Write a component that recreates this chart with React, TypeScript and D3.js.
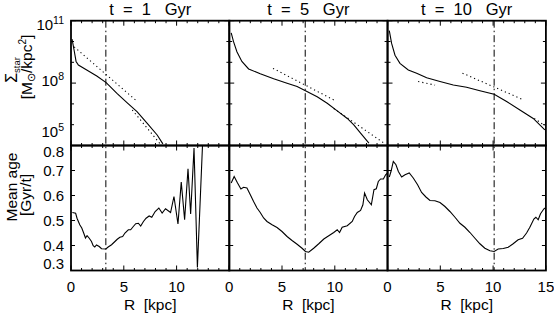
import React from "react";
import * as d3 from "d3";

// --- data ------------------------------------------------------------------
const titles = ["1", "5", "10"];
const breakRadius = [3.3, 7.2, 10.1];

// surface density profiles, R [kpc] / Sigma [Msun/kpc^2]
const radiusT1 = [0.1, 0.29, 0.48, 0.7, 1.49, 2.44, 3.33, 4.35, 5.3, 6.25, 7.2, 8.16, 8.7];
const sigmaT1 = [1.3e10, 3.9e9, 1.1e9, 7.4e8, 4.3e8, 2.2e8, 1.05e8, 3.2e7, 1.15e7, 4.3e6, 1.2e6, 3.2e5, 1.2e5];
const radiusT5 = [0.19, 0.41, 0.73, 1.2, 1.84, 2.94, 4.21, 5.48, 6.43, 7.22, 8.33, 9.28, 10.23, 11.18, 11.8, 12.44, 13.23];
const sigmaT5 = [2.6e10, 9.8e9, 3.2e9, 1.1e9, 4.8e8, 2.8e8, 1.6e8, 9.8e7, 6.8e7, 4.3e7, 2.2e7, 1.07e7, 4.6e6, 2.0e6, 9.8e5, 3.9e5, 1.3e5];
const radiusT10 = [0.17, 0.39, 0.71, 1.18, 1.97, 2.76, 3.71, 4.97, 6.23, 7.49, 8.75, 10.1, 11.28, 12.54, 13.8, 14.9];
const sigmaT10 = [3.3e10, 8.1e9, 2.2e9, 8.9e8, 4.3e8, 3.0e8, 1.8e8, 1.2e8, 8.1e7, 6.3e7, 4.3e7, 2.9e7, 1.3e7, 5.1e6, 2.0e6, 5.6e5];

// exponential fits (dotted), pairs of end points
const fitRadius = [
  [[0.3, 6.2], [5.8, 8.4]],
  [[4.15, 10.07], [9.9, 14.66]],
  [[2.9, 4.5], [7.1, 12.9], [13.9, 14.9]],
];
const fitSigma = [
  [[5.5e9, 1.4e7], [5.1e6, 1.26e5]],
  [[5.1e8, 1.4e7], [6.0e6, 1.3e5]],
  [[1.2e8, 8.0e7], [3.0e8, 1.55e7], [2.0e6, 9.0e5]],
];

// mean age profiles, R [kpc] / age [Gyr/t]
const ageRadiusT1 = [0.13, 0.44, 0.57, 0.83, 1.02, 1.2, 1.37, 1.52, 1.71, 1.94, 2.1, 2.25, 2.41, 2.67, 2.89, 3.3, 3.52, 3.84, 4.16, 4.38, 4.63, 4.89, 5.11, 5.43, 5.65, 5.9, 6.13, 6.38, 6.6, 6.86, 7.11, 7.4, 7.65, 7.97, 8.32, 8.63, 8.95, 9.43, 9.75, 10.13, 10.44, 10.76, 11.08, 11.33, 11.65, 11.97, 12.6];
const ageT1 = [0.532, 0.529, 0.509, 0.483, 0.47, 0.45, 0.43, 0.439, 0.43, 0.416, 0.399, 0.394, 0.402, 0.396, 0.387, 0.386, 0.394, 0.403, 0.416, 0.425, 0.433, 0.436, 0.45, 0.463, 0.463, 0.476, 0.487, 0.489, 0.478, 0.496, 0.509, 0.518, 0.513, 0.536, 0.55, 0.53, 0.547, 0.532, 0.596, 0.486, 0.654, 0.503, 0.707, 0.526, 0.79, 0.312, 0.95];
const ageRadiusT5 = [0.19, 0.47, 0.79, 1.11, 1.36, 1.68, 2.0, 2.31, 2.63, 2.94, 3.26, 3.58, 4.06, 4.53, 5.0, 5.48, 5.95, 6.43, 6.9, 7.22, 7.53, 8.0, 8.48, 8.96, 9.43, 9.9, 10.23, 10.45, 10.7, 11.18, 11.65, 11.87, 12.13, 12.44, 12.66, 12.82, 13.08, 13.46, 13.71, 13.93, 14.12, 14.34, 14.6, 14.81, 15.0];
const ageT5 = [0.65, 0.676, 0.65, 0.626, 0.633, 0.63, 0.603, 0.576, 0.55, 0.532, 0.51, 0.496, 0.483, 0.472, 0.456, 0.436, 0.42, 0.405, 0.389, 0.376, 0.373, 0.389, 0.407, 0.426, 0.439, 0.452, 0.463, 0.452, 0.473, 0.479, 0.496, 0.516, 0.532, 0.54, 0.563, 0.61, 0.583, 0.563, 0.623, 0.627, 0.656, 0.666, 0.666, 0.683, 0.69];
const ageRadiusT10 = [0.17, 0.33, 0.55, 0.8, 1.03, 1.34, 1.66, 2.06, 2.44, 2.85, 3.23, 3.64, 4.02, 4.49, 4.97, 5.44, 5.91, 6.39, 6.86, 7.33, 7.81, 8.28, 8.75, 9.22, 9.7, 10.1, 10.48, 10.96, 11.43, 11.9, 12.37, 12.79, 13.17, 13.48, 13.86, 14.05, 14.27, 14.49, 14.8, 14.9];
const ageT10 = [0.674, 0.696, 0.736, 0.723, 0.696, 0.674, 0.683, 0.69, 0.67, 0.643, 0.612, 0.594, 0.58, 0.579, 0.572, 0.556, 0.536, 0.513, 0.489, 0.473, 0.452, 0.429, 0.407, 0.389, 0.379, 0.376, 0.386, 0.388, 0.393, 0.407, 0.423, 0.429, 0.45, 0.473, 0.506, 0.513, 0.503, 0.527, 0.546, 0.55];

const xTicks = [0, 5, 10, 15];
const sigmaTicks = [1e5, 1e8, 1e11];
const sigmaMinor = [1e6, 1e7, 1e9, 1e10];
const ageTicks = [0.3, 0.4, 0.5, 0.6, 0.7, 0.8];

// --- layout ------------------------------------------------------------------
const W = 554;
const H = 313;
const panelLeft = [71, 229.2, 387.5];
const panelW = 158.4;
const topY0 = 20.7;
const topY1 = 145.5;
const botY1 = 270.5;
const font = "'Liberation Sans', Arial, sans-serif";

const profiles = [
  { r: radiusT1, s: sigmaT1, ar: ageRadiusT1, a: ageT1 },
  { r: radiusT5, s: sigmaT5, ar: ageRadiusT5, a: ageT5 },
  { r: radiusT10, s: sigmaT10, ar: ageRadiusT10, a: ageT10 },
];

const ySigma = d3.scaleLog().domain([1e5, 1e11]).range([topY1, topY0]);
const yAge = d3.scaleLinear().domain([0.3, 0.8]).range([botY1, topY1]);

function Panel({ i }: { i: number }) {
  const x = d3.scaleLinear().domain([0, 15]).range([panelLeft[i], panelLeft[i] + panelW]);
  const p = profiles[i];
  const sLine = d3.line<number>().x((_, k) => x(p.r[k])).y((d) => ySigma(d));
  const aLine = d3.line<number>().x((_, k) => x(p.ar[k])).y((d) => yAge(d));
  const x0 = panelLeft[i];
  const x1 = x0 + panelW;
  const minorX = d3.range(0, 16).filter((v) => v % 5 !== 0);
  const cx = (x0 + x1) / 2;
  const showX = xTicks.filter((t) => i === 2 || t !== 15);

  return (
    <g>
      <defs>
        <clipPath id={`ct${i}`}>
          <rect x={x0} y={topY0} width={panelW} height={topY1 - topY0} />
        </clipPath>
        <clipPath id={`cb${i}`}>
          <rect x={x0} y={topY1} width={panelW} height={botY1 - topY1} />
        </clipPath>
      </defs>

      {/* title */}
      <text x={cx} y={15} textAnchor="middle" fontSize={16.5} style={{ whiteSpace: "pre" }}>
        {`t  =  ${titles[i]}   Gyr`}
      </text>

      {/* curves */}
      <g clipPath={`url(#ct${i})`} fill="none" stroke="#000">
        <path d={sLine(p.s) ?? ""} strokeWidth={1.1} />
        {fitRadius[i].map((fr, k) => (
          <line
            key={k}
            x1={x(fr[0])}
            x2={x(fr[1])}
            y1={ySigma(fitSigma[i][k][0])}
            y2={ySigma(fitSigma[i][k][1])}
            strokeWidth={1.1}
            strokeDasharray="1.2,3"
          />
        ))}
      </g>
      <g clipPath={`url(#cb${i})`} fill="none" stroke="#000">
        <path d={aLine(p.a) ?? ""} strokeWidth={1.1} />
      </g>

      {/* break radius */}
      <line
        x1={x(breakRadius[i])}
        x2={x(breakRadius[i])}
        y1={topY0}
        y2={botY1}
        stroke="#000"
        strokeWidth={1}
        strokeDasharray="7,3,1.5,3"
      />

      {/* x ticks, top and bottom of both panels */}
      <g stroke="#000" strokeWidth={1}>
        {[topY0, topY1, botY1].map((yy, j) =>
          xTicks.map((t) => (
            <g key={`M${j}-${t}`}>
              {j > 0 && <line x1={x(t)} x2={x(t)} y1={yy} y2={yy - 5} />}
              {j < 2 && <line x1={x(t)} x2={x(t)} y1={yy} y2={yy + 5} />}
            </g>
          ))
        )}
        {[topY0, topY1, botY1].map((yy, j) =>
          minorX.map((t) => (
            <g key={`m${j}-${t}`}>
              {j > 0 && <line x1={x(t)} x2={x(t)} y1={yy} y2={yy - 2.5} />}
              {j < 2 && <line x1={x(t)} x2={x(t)} y1={yy} y2={yy + 2.5} />}
            </g>
          ))
        )}
        {/* y ticks on both sides */}
        {[x0, x1].map((xx, j) => {
          const dir = j === 0 ? 1 : -1;
          return (
            <g key={`y${j}`}>
              {sigmaTicks.map((t) => (
                <line key={`s${t}`} x1={xx} x2={xx + dir * 5} y1={ySigma(t)} y2={ySigma(t)} />
              ))}
              {sigmaMinor.map((t) => (
                <line key={`sm${t}`} x1={xx} x2={xx + dir * 3} y1={ySigma(t)} y2={ySigma(t)} />
              ))}
              {ageTicks.map((t) => (
                <line key={`a${t}`} x1={xx} x2={xx + dir * 4} y1={yAge(t)} y2={yAge(t)} />
              ))}
            </g>
          );
        })}
      </g>

      {/* frames */}
      <rect x={x0} y={topY0} width={panelW} height={topY1 - topY0} fill="none" stroke="#000" strokeWidth={1.8} />
      <rect x={x0} y={topY1} width={panelW} height={botY1 - topY1} fill="none" stroke="#000" strokeWidth={1.8} />

      {/* x tick labels */}
      {showX.map((t) => (
        <text key={t} x={x(t)} y={292} textAnchor="middle" fontSize={15}>
          {t}
        </text>
      ))}
      <text x={cx} y={310} textAnchor="middle" fontSize={15.5} style={{ whiteSpace: "pre" }}>
        {"R  [kpc]"}
      </text>
    </g>
  );
}

export default function App() {
  const sigmaLabelY = [137, 86, 30];
  const ageLabelY = (t: number) => (t === 0.8 ? 157 : t === 0.3 ? 269 : yAge(t) + 5.5);
  return (
    <svg
      width={W}
      height={H}
      viewBox={`0 0 ${W} ${H}`}
      style={{ position: "absolute", left: 0, top: 0, background: "#fff" }}
      fontFamily={font}
      fill="#000"
    >
      <rect width={W} height={H} fill="#fff" />
      {[0, 1, 2].map((i) => (
        <Panel key={i} i={i} />
      ))}

      {/* y tick labels */}
      {sigmaTicks.map((t, k) => (
        <text key={t} x={64} y={sigmaLabelY[k]} textAnchor="end" fontSize={15}>
          10
          <tspan dy={-6} fontSize={10.5}>
            {Math.round(Math.log10(t))}
          </tspan>
        </text>
      ))}
      {ageTicks.map((t) => (
        <text key={t} x={64} y={ageLabelY(t)} textAnchor="end" fontSize={15}>
          {t.toFixed(1)}
        </text>
      ))}

      {/* y axis titles */}
      <text transform="translate(17,70) rotate(-90)" textAnchor="middle" fontSize={16}>
        Σ
        <tspan dy={3} fontSize={9.5}>
          star
        </tspan>
      </text>
      <text transform="translate(32,67) rotate(-90)" textAnchor="middle" fontSize={15.5}>
        [M
        <tspan dy={3} fontSize={11}>
          ⊙
        </tspan>
        <tspan dy={-3}>/kpc</tspan>
        <tspan dy={-6} fontSize={10}>
          2
        </tspan>
        <tspan dy={6}>]</tspan>
      </text>
      <text transform="translate(17,187) rotate(-90)" textAnchor="middle" fontSize={15.5}>
        Mean age
      </text>
      <text transform="translate(31,195) rotate(-90)" textAnchor="middle" fontSize={15.5}>
        [Gyr/t]
      </text>
    </svg>
  );
}
